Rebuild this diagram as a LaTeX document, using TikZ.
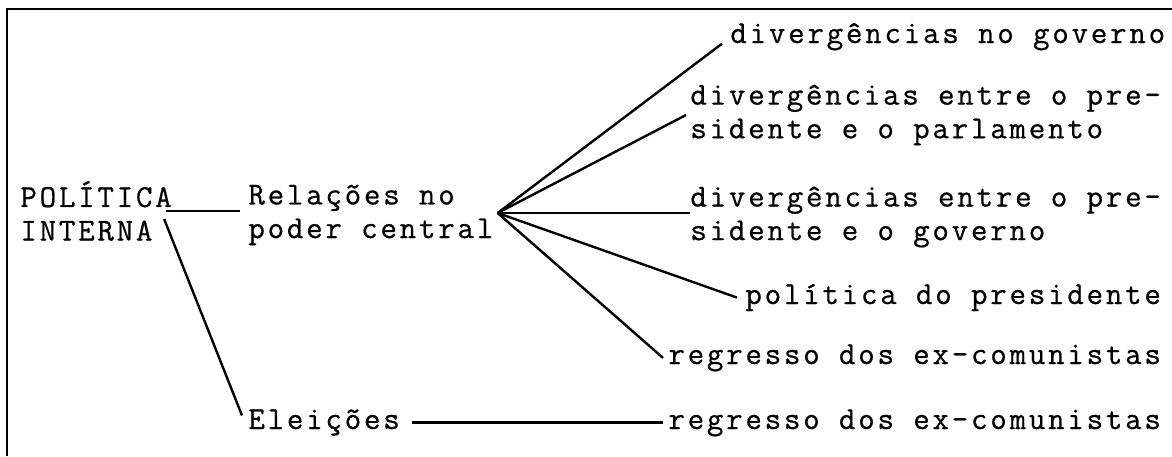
\documentclass[tikz,border=0pt]{standalone}
\usepackage{fontspec}
\newfontfamily\tyfam{lmmono12-regular.otf}[LetterSpace=8.7,FakeBold=0.6]
\newcommand\tyfont{\fontsize{16}{16.8}\selectfont\tyfam}
\begin{document}
\begin{tikzpicture}[x=0.5pt,y=-0.5pt,
    txt/.style={inner sep=0pt,align=left,font=\tyfont},
    lnk/.style={line width=1.2pt}]
        \useasboundingbox (0,0) rectangle (1172,456);
        \draw[lnk] (7,456) -- (7,9) -- (1172,9);

        \node[txt,anchor=west] (pi) at (20,211) {POLÍTICA\\INTERNA};
        \node[txt,anchor=west] (rel) at (248,215) {Relações no\\poder central};
        \node[txt,anchor=base west] (el) at (248,429) {Eleições};

        \node[txt,anchor=base west] (d1) at (730,43) {divergências no governo};
        \node[txt,anchor=west] (d2) at (690,115) {divergências entre o pre-\\sidente e o parlamento};
        \node[txt,anchor=west] (d3) at (690,217) {divergências entre o pre-\\sidente e o governo};
        \node[txt,anchor=base west] (pol) at (745,304) {política do presidente};
        \node[txt,anchor=base west] (rg1) at (668,364) {regresso dos ex-comunistas};
        \node[txt,anchor=base west] (rg2) at (668,429) {regresso dos ex-comunistas};

        \coordinate (hub) at ([shift={(2pt,1pt)}]rel.east);

        \draw[lnk] ([xshift=-3pt]pi.east) -- ([xshift=-4pt]pi.east -| rel.west);
        \draw[lnk] ([shift={(-4pt,-4pt)}]pi.east) -- ([shift={(-3pt,3.5pt)}]el.west);
        \draw[lnk] ([xshift=6pt]el.east) -- ([xshift=-2.5pt]el.east -| rg2.west);

        \draw[lnk] (hub) -- ([shift={(-4pt,-3.5pt)}]d1.west);
        \draw[lnk] (hub) -- ([xshift=-2pt]d2.west);
        \draw[lnk] (hub) -- (hub -| d3.west);
        \draw[lnk] (hub) -- ([xshift=-4pt]pol.west);
        \draw[lnk] (hub) -- ([xshift=-2.5pt]rg1.west);
\end{tikzpicture}
\end{document}
